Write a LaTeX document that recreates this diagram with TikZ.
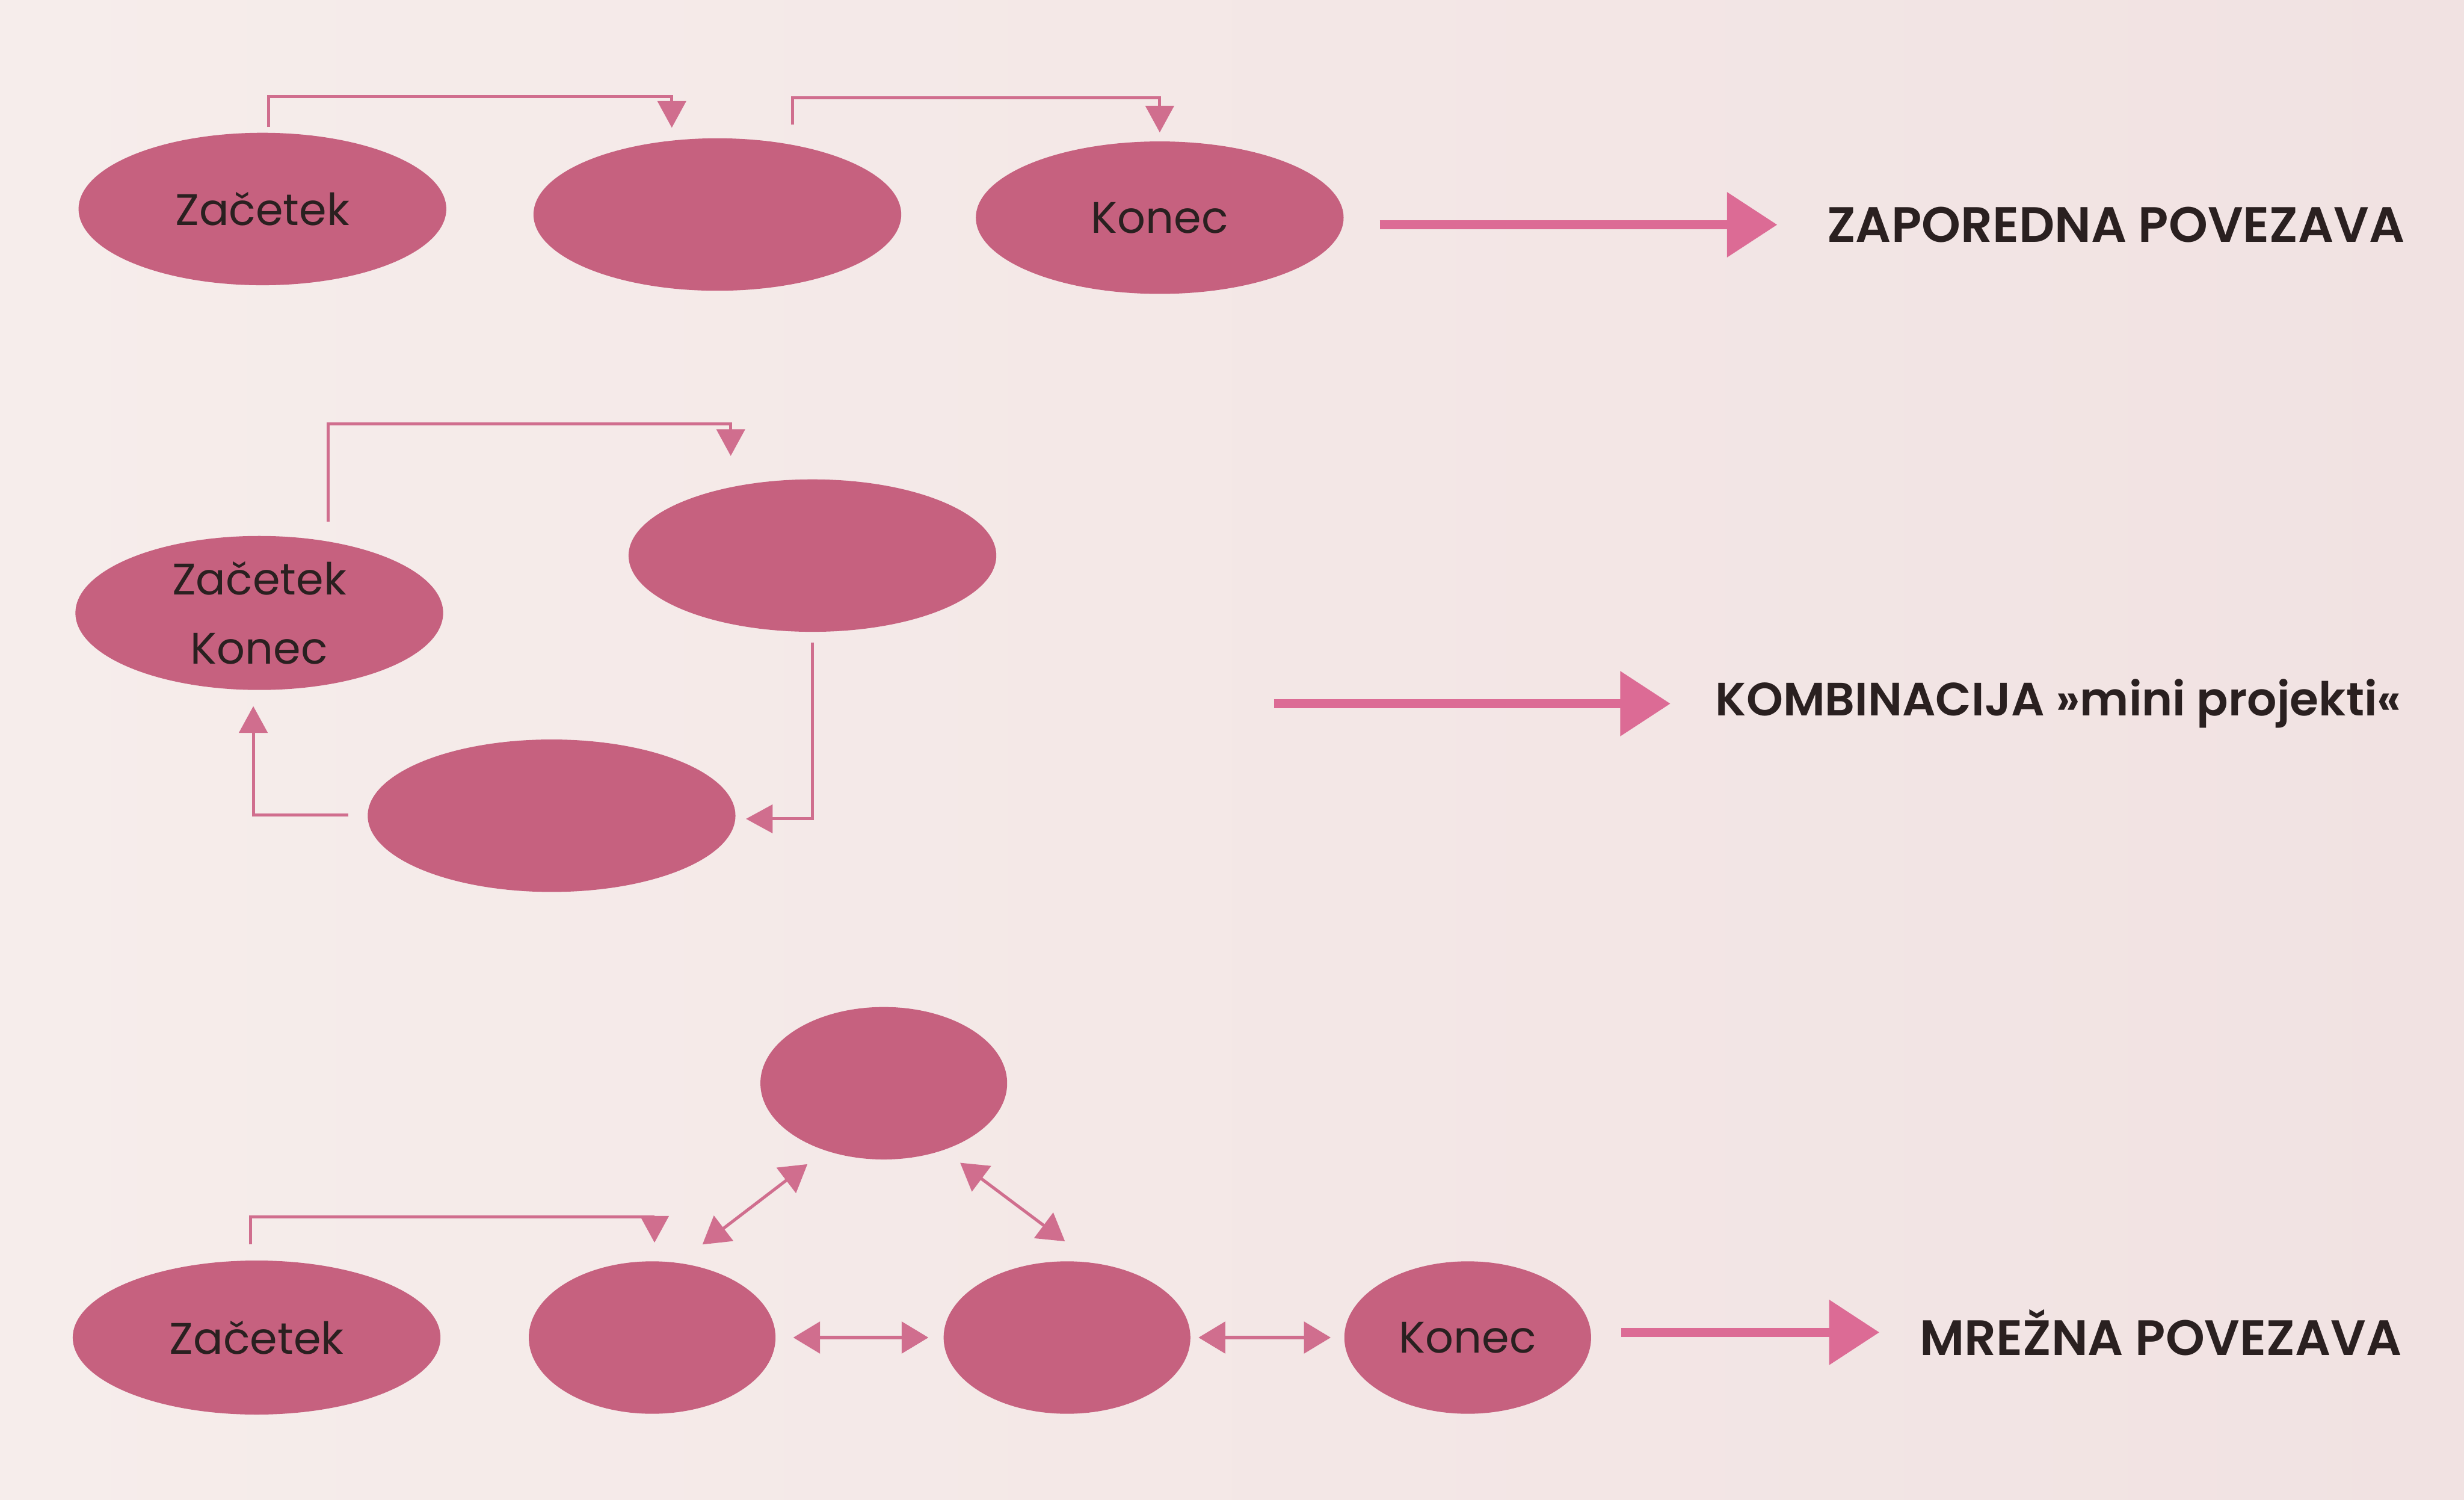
\documentclass[tikz,border=0pt]{standalone}
\usepackage{fontspec}
\setmainfont{Poppins}[BoldFont={Poppins SemiBold}]
\usetikzlibrary{
  arrows.meta,
  positioning,
  shapes.geometric
}
\definecolor{ink}{HTML}{2A2020}
\definecolor{paper}{HTML}{F1E2E2}
\definecolor{paperlight}{HTML}{F6EDEB}
\definecolor{rose}{HTML}{C6617F}
\definecolor{wire}{HTML}{D06E8E}
\definecolor{bigpink}{HTML}{DC6B95}
\tikzset{
  bubble/.style={
    ellipse,
    fill=rose,
    minimum width=2.34cm,
    minimum height=0.97cm,
    inner sep=0pt,
    align=center,
    text=ink,
    font=\fontsize{8}{12.5}\selectfont
  },
  smallbubble/.style={
    bubble,
    minimum width=1.57cm
  },
  link/.style={
    -{Triangle[length=1.7mm,width=1.8mm]},
    line width=0.55pt,
    draw=wire
  },
  twoway/.style={
    link,
    {Triangle[length=1.7mm,width=2mm]}-{Triangle[length=1.7mm,width=2mm]}
  },
  bigarrow/.style={
    -{Triangle[length=3.2mm,width=4mm]},
    line width=1.7pt,
    draw=bigpink
  },
  title/.style={
    anchor=west,
    inner sep=0pt,
    text=ink
  }
}

\begin{document}
\begin{tikzpicture}
  \shade[left color=paperlight, right color=paper] (0,0) rectangle (15.68,-9.54);

  % zaporedna povezava
  \node[bubble] (z1) at (1.67,-1.33) {Začetek};
  \node[bubble] (z2) at (4.565,-1.365) {};
  \node[bubble] (z3) at (7.38,-1.385) {Konec};
  \draw[link] ([shift={(0.04,0.03)}]z1.north)
    |- ([shift={(-0.29,0.26)}]z2.north) -- ([shift={(-0.29,0.06)}]z2.north);
  \draw[link] ([shift={(0.48,0.08)}]z2.north)
    |- ([shift={(0,0.27)}]z3.north) -- ([shift={(0,0.05)}]z3.north);

  % kombinacija
  \node[bubble, minimum height=0.98cm] (k1) at (1.65,-3.90) {Začetek\\Konec};
  \node[bubble] (k2) at (5.17,-3.535) {};
  \node[bubble] (k3) at (3.51,-5.19) {};
  \draw[link] ([shift={(0.44,0.085)}]k1.north)
    |- ([shift={(-0.52,0.347)}]k2.north) -- ([shift={(-0.52,0.142)}]k2.north);
  \draw[link] ([shift={(0,-0.06)}]k2.south) |- ([shift={(0.06,-0.02)}]k3.east);
  \draw[link] ([shift={(-0.115,0.005)}]k3.west) -| ([shift={(-0.038,-0.096)}]k1.south);

  % mrezna povezava
  \node[smallbubble] (m0) at (5.624,-6.892) {};
  \node[bubble, minimum height=0.98cm] (m1) at (1.633,-8.51) {Začetek};
  \node[smallbubble] (m2) at (4.15,-8.51) {};
  \node[smallbubble] (m3) at (6.79,-8.51) {};
  \node[smallbubble] (m4) at (9.34,-8.51) {Konec};
  \draw[link] ([shift={(-0.04,0.095)}]m1.north)
    |- ([shift={(0.015,0.277)}]m2.north) -- ([shift={(0.015,0.112)}]m2.north);
  \draw[twoway] ([shift={(0.32,0.10)}]m2.north) -- ([shift={(-0.486,-0.023)}]m0.south);
  \draw[twoway] ([shift={(0.486,-0.014)}]m0.south) -- ([shift={(-0.013,0.12)}]m3.north);
  \draw[twoway] ([xshift=1.06mm]m2.east) -- ([xshift=-0.9mm]m3.west);
  \draw[twoway] ([xshift=0.45mm]m3.east) -- ([xshift=-0.8mm]m4.west);

  % vrste povezav
  \foreach \n/\xa/\xt/\y/\gap/\fs/\txt in {
    1/8.78/11.62/-1.43/3.1mm/9/ZAPOREDNA POVEZAVA,
    2/8.107/10.91/-4.477/2.8mm/8.45/KOMBINACIJA »mini projekti«,
    3/10.315/12.21/-8.477/2.5mm/9/MREŽNA POVEZAVA
  }{
    \coordinate (a\n) at (\xa,\y);
    \node[title, font=\fontsize{\fs}{10}\selectfont\bfseries] (t\n) at (\xt,\y) {\txt};
    \draw[bigarrow, shorten >=\gap] (a\n) -- (t\n.west);
  }
\end{tikzpicture}
\end{document}
